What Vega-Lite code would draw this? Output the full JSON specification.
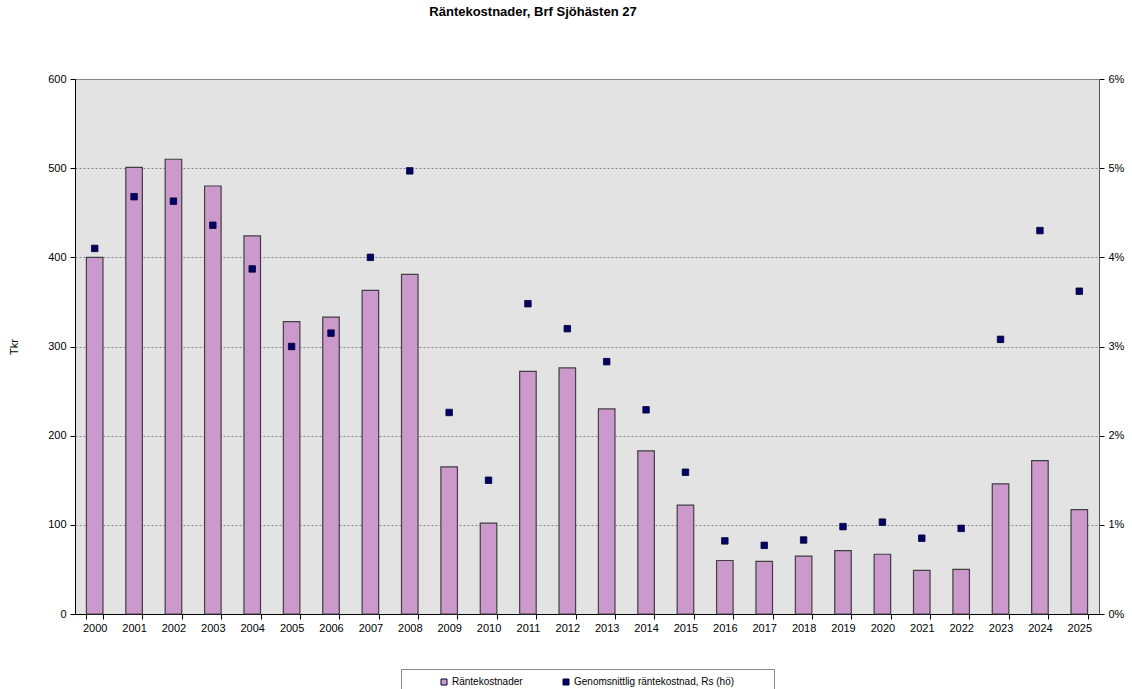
{
  "$schema": "https://vega.github.io/schema/vega-lite/v6.json",
  "autosize": {"type": "none"},
  "width": 1024,
  "height": 535,
  "padding": {"left": 75, "top": 79, "right": 33, "bottom": 75},
  "background": "white",
  "config": {
    "font": "Liberation Sans",
    "view": {"fill": "#e3e3e3", "stroke": "#9a9a9a", "strokeWidth": 1},
    "axis": {"labelFont": "Liberation Sans", "labelFontSize": 11, "labelColor": "#000", "titleFont": "Liberation Sans", "titleFontWeight": "normal", "titleFontSize": 11, "domainColor": "#000", "tickColor": "#000"}
  },
  "title": {
    "text": "Räntekostnader, Brf Sjöhästen 27",
    "font": "Liberation Sans",
    "fontSize": 13,
    "fontWeight": "bold",
    "anchor": "middle",
    "dx": -54,
    "offset": 54,
    "color": "#000"
  },
  "data": {
    "values": [
      {"year": "2000", "kost": 400, "rate": 0.0410},
      {"year": "2001", "kost": 501, "rate": 0.0468},
      {"year": "2002", "kost": 510, "rate": 0.0463},
      {"year": "2003", "kost": 480, "rate": 0.0436},
      {"year": "2004", "kost": 424, "rate": 0.0387},
      {"year": "2005", "kost": 328, "rate": 0.0300},
      {"year": "2006", "kost": 333, "rate": 0.0315},
      {"year": "2007", "kost": 363, "rate": 0.0400},
      {"year": "2008", "kost": 381, "rate": 0.0497},
      {"year": "2009", "kost": 165, "rate": 0.0226},
      {"year": "2010", "kost": 102, "rate": 0.0150},
      {"year": "2011", "kost": 272, "rate": 0.0348},
      {"year": "2012", "kost": 276, "rate": 0.0320},
      {"year": "2013", "kost": 230, "rate": 0.0283},
      {"year": "2014", "kost": 183, "rate": 0.0229},
      {"year": "2015", "kost": 122, "rate": 0.0159},
      {"year": "2016", "kost": 60, "rate": 0.0082},
      {"year": "2017", "kost": 59, "rate": 0.0077},
      {"year": "2018", "kost": 65, "rate": 0.0083},
      {"year": "2019", "kost": 71, "rate": 0.0098},
      {"year": "2020", "kost": 67, "rate": 0.0103},
      {"year": "2021", "kost": 49, "rate": 0.0085},
      {"year": "2022", "kost": 50, "rate": 0.0096},
      {"year": "2023", "kost": 146, "rate": 0.0308},
      {"year": "2024", "kost": 172, "rate": 0.0430},
      {"year": "2025", "kost": 117, "rate": 0.0362}
    ]
  },
  "encoding": {
    "x": {
      "field": "year", "type": "ordinal",
      "scale": {"paddingInner": 0.58, "paddingOuter": 0.29},
      "axis": {"title": null, "labelAngle": 0, "tickBand": "extent", "tickSize": 5, "labelPadding": 3, "grid": false, "domainColor": "#000"}
    }
  },
  "layer": [
    {
      "mark": {"type": "bar", "stroke": "#404040", "strokeWidth": 1.2},
      "encoding": {
        "y": {
          "field": "kost", "type": "quantitative",
          "scale": {"domain": [0, 600], "nice": false},
          "axis": {"title": "Tkr", "titleAngle": -90, "titlePadding": 28, "values": [0, 100, 200, 300, 400, 500, 600], "tickSize": 5, "labelPadding": 4, "grid": true, "gridColor": "#707070", "gridDash": [2, 2], "gridWidth": 0.8}
        },
        "color": {
          "datum": "Räntekostnader",
          "type": "nominal",
          "scale": {"domain": ["Räntekostnader", "Genomsnittlig räntekostnad, Rs (hö)"], "range": ["#cc99cc", "#000066"]},
          "legend": {
            "title": "\u00a0",
            "titleOrient": "right",
            "titlePadding": 32,
            "titleFontSize": 10,
            "orient": "none",
            "legendX": 326,
            "legendY": 590,
            "direction": "horizontal",
            "symbolType": "square",
            "symbolSize": 36,
            "symbolOffset": 30,
            "labelOffset": 3,
            "symbolStrokeColor": "#333",
            "symbolStrokeWidth": 1,
            "labelFont": "Liberation Sans",
            "labelFontSize": 10,
            "labelColor": "#000",
            "labelLimit": 400,
            "columnPadding": 8,
            "strokeColor": "#888",
            "fillColor": "white",
            "padding": 8,
            "offset": 0
          }
        }
      }
    },
    {
      "mark": {"type": "point", "shape": "square", "filled": true, "size": 42, "stroke": "#000033", "strokeWidth": 0.8, "opacity": 1},
      "encoding": {
        "y": {
          "field": "rate", "type": "quantitative",
          "scale": {"domain": [0, 0.06], "nice": false},
          "axis": {"orient": "right", "title": null, "format": ".0%", "values": [0, 0.01, 0.02, 0.03, 0.04, 0.05, 0.06], "tickSize": 5, "labelPadding": 4, "grid": false, "domainColor": "#555"}
        },
        "color": {"datum": "Genomsnittlig räntekostnad, Rs (hö)", "type": "nominal"}
      }
    }
  ],
  "resolve": {"scale": {"y": "independent"}}
}
